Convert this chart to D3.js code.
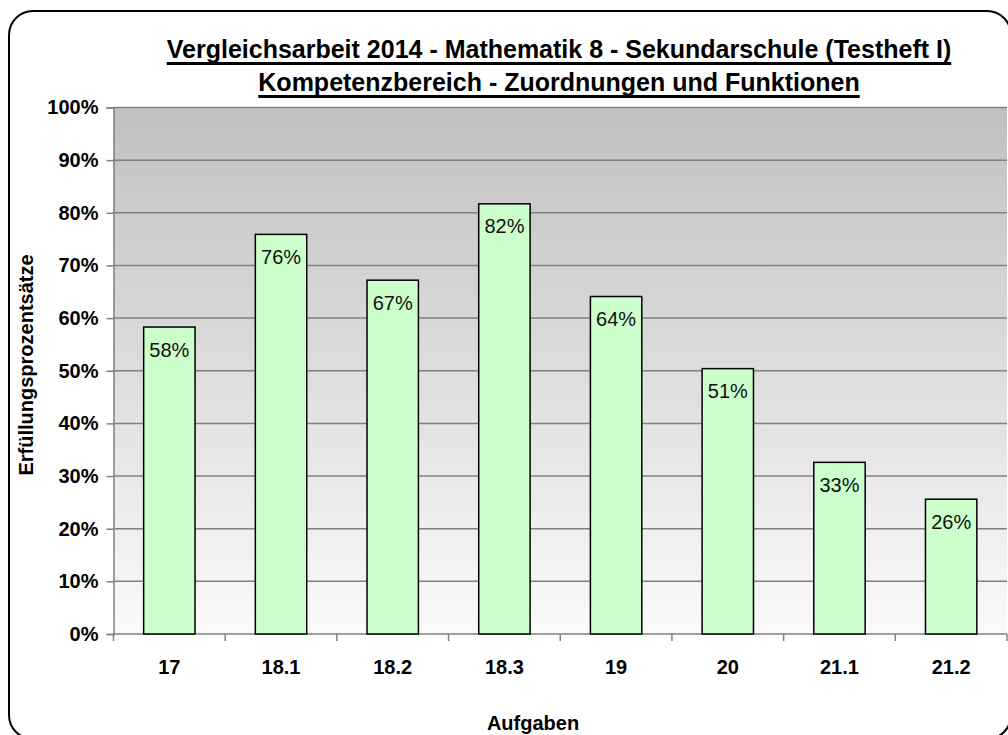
<!DOCTYPE html>
<html>
<head>
<meta charset="utf-8">
<script src="https://cdn.jsdelivr.net/npm/d3@7"></script>
<style>
  body { margin: 0; background: #fff; }
  svg { display: block; font-family: "Liberation Sans", Arial, sans-serif; }
</style>
</head>
<body>
<script>
// Aufgaben und Erfüllungsprozentsätze
var categories = ["17", "18.1", "18.2", "18.3", "19", "20", "21.1", "21.2"];
var values = [58.3, 75.9, 67.2, 81.7, 64.1, 50.4, 32.6, 25.6];
var labels = ["58%", "76%", "67%", "82%", "64%", "51%", "33%", "26%"];
var yTicks = [0, 10, 20, 30, 40, 50, 60, 70, 80, 90, 100];

var W = 1008, H = 735;
var margin = {top: 107.5, right: 1, bottom: 101, left: 113.5},
    width = W - margin.left - margin.right,
    height = H - margin.top - margin.bottom;

var svg = d3.select("body").append("svg")
    .attr("width", W)
    .attr("height", H);

var defs = svg.append("defs");
var grad = defs.append("linearGradient")
    .attr("id", "bg")
    .attr("x1", 0).attr("y1", 0).attr("x2", 0).attr("y2", 1);
grad.append("stop").attr("offset", "0%").attr("stop-color", "#c0c0c0");
grad.append("stop").attr("offset", "100%").attr("stop-color", "#fafafa");

// outer frame
svg.append("rect")
    .attr("x", 9).attr("y", 11)
    .attr("width", 1002).attr("height", 728)
    .attr("rx", 24).attr("ry", 24)
    .attr("fill", "#fff")
    .attr("stroke", "#000")
    .attr("stroke-width", 2);

var x = d3.scaleBand()
    .domain(categories)
    .range([0, width])
    .paddingInner(0.54)
    .paddingOuter(0.27);

var xb = d3.scaleLinear()
    .domain([0, categories.length])
    .range([0, width]);

var y = d3.scaleLinear()
    .domain([0, 100])
    .range([height, 0]);

var g = svg.append("g")
    .attr("transform", "translate(" + margin.left + "," + margin.top + ")");

g.append("rect")
    .attr("width", width)
    .attr("height", height)
    .attr("fill", "url(#bg)");

// gridlines
g.selectAll(".grid")
    .data(yTicks.slice(1))
    .enter().append("line")
    .attr("x1", 0).attr("x2", width)
    .attr("y1", function(d){ return y(d); })
    .attr("y2", function(d){ return y(d); })
    .attr("stroke", "#808080")
    .attr("stroke-width", 1.5);

// y axis
var yAxis = d3.axisLeft(y)
    .tickValues(yTicks)
    .tickSize(7)
    .tickPadding(8)
    .tickFormat(function(d){ return d + "%"; });

var ya = g.append("g").call(yAxis);
ya.select(".domain").attr("stroke", "#808080").attr("stroke-width", 1.5);
ya.selectAll(".tick line").attr("stroke", "#808080").attr("stroke-width", 1.5);
ya.selectAll(".tick text")
    .attr("font-size", 20).attr("font-weight", "bold").attr("fill", "#000")
    .attr("font-family", "Liberation Sans, Arial, sans-serif");

// x axis
var xa = g.append("g").attr("transform", "translate(0," + height + ")");
xa.append("line")
    .attr("x1", 0).attr("x2", width)
    .attr("stroke", "#808080").attr("stroke-width", 1.5);
xa.selectAll(".xt")
    .data(d3.range(categories.length + 1))
    .enter().append("line")
    .attr("x1", function(d){ return xb(d); })
    .attr("x2", function(d){ return xb(d); })
    .attr("y1", 0).attr("y2", 7)
    .attr("stroke", "#808080").attr("stroke-width", 1.5);
xa.selectAll(".xl")
    .data(categories)
    .enter().append("text")
    .attr("x", function(d){ return x(d) + x.bandwidth() / 2; })
    .attr("y", 40)
    .attr("text-anchor", "middle")
    .attr("font-size", 20).attr("font-weight", "bold")
    .text(function(d){ return d; });

// bars
g.selectAll(".bar")
    .data(values)
    .enter().append("rect")
    .attr("x", function(d, i){ return x(categories[i]); })
    .attr("y", function(d){ return y(d); })
    .attr("width", x.bandwidth())
    .attr("height", function(d){ return height - y(d); })
    .attr("fill", "#ccffcc")
    .attr("stroke", "#000")
    .attr("stroke-width", 1.5);

g.selectAll(".lbl")
    .data(values)
    .enter().append("text")
    .attr("x", function(d, i){ return x(categories[i]) + x.bandwidth() / 2; })
    .attr("y", function(d){ return y(d) + 29.5; })
    .attr("text-anchor", "middle")
    .attr("font-size", 20)
    .attr("fill", "#111")
    .text(function(d, i){ return labels[i]; });

// titles
var titles = [
  {t: "Vergleichsarbeit 2014 - Mathematik 8 - Sekundarschule (Testheft I)", y: 58},
  {t: "Kompetenzbereich - Zuordnungen und Funktionen", y: 91}
];
titles.forEach(function(o){
  var tx = svg.append("text")
      .attr("x", 559).attr("y", o.y)
      .attr("text-anchor", "middle")
      .attr("font-size", 25).attr("font-weight", "bold")
      .text(o.t);
  var bb = tx.node().getBBox();
  svg.append("rect")
      .attr("x", bb.x).attr("y", o.y + 4)
      .attr("width", bb.width).attr("height", 3)
      .attr("fill", "#000");
});

svg.append("text")
    .attr("transform", "translate(33,365) rotate(-90)")
    .attr("text-anchor", "middle")
    .attr("font-size", 20).attr("font-weight", "bold")
    .text("Erfüllungsprozentsätze");

svg.append("text")
    .attr("x", 533).attr("y", 730)
    .attr("text-anchor", "middle")
    .attr("font-size", 20).attr("font-weight", "bold")
    .text("Aufgaben");
</script>
</body>
</html>
